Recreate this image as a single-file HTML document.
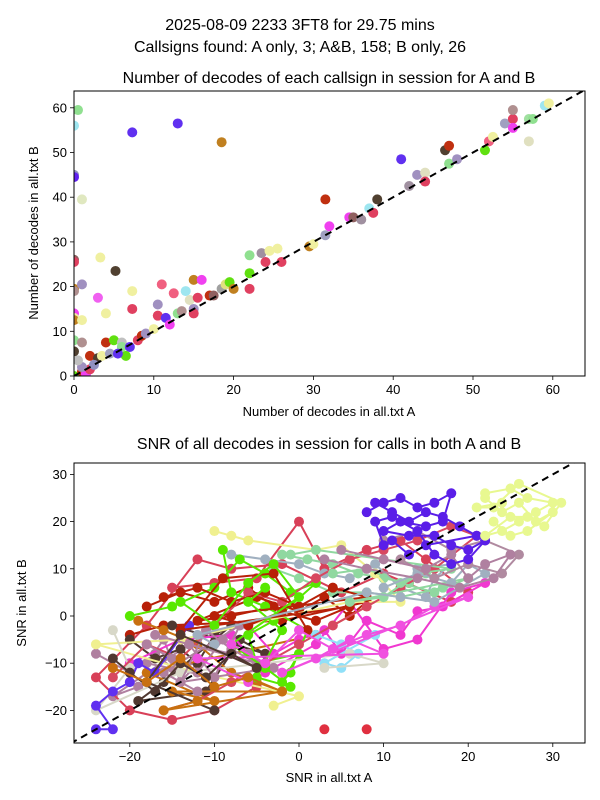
<!DOCTYPE html>
<html><head><meta charset="utf-8"><style>
body{margin:0;background:#fff;}
svg{display:block;font-family:"Liberation Sans","DejaVu Sans",sans-serif;}
</style></head><body>
<svg id="fig" width="600" height="800" viewBox="0 0 600 800">
<rect width="600" height="800" fill="#fff"/>
<text x="300" y="30" font-size="16" text-anchor="middle">2025-08-09 2233 3FT8 for 29.75 mins</text>
<text x="300" y="52" font-size="16" text-anchor="middle">Callsigns found: A only, 3; A&amp;B, 158; B only, 26</text>
<text x="329" y="83" font-size="16" text-anchor="middle">Number of decodes of each callsign in session for A and B</text>
<text x="329" y="449" font-size="16" text-anchor="middle">SNR of all decodes in session for calls in both A and B</text>
<text x="329" y="416" font-size="13" text-anchor="middle">Number of decodes in all.txt A</text>
<text x="38" y="233" font-size="13" text-anchor="middle" transform="rotate(-90 38 233)">Number of decodes in all.txt B</text>
<text x="329" y="782" font-size="13" text-anchor="middle">SNR in all.txt A</text>
<text x="26" y="603" font-size="13" text-anchor="middle" transform="rotate(-90 26 603)">SNR in all.txt B</text>
<g id="top"></g>
<g id="bot"></g>
</svg>
<script>
const topA=[0,0.5,0,0,1,7.3,13,18.5,0,0,3.3,5.2,0,0,1,3,7.3,7.3,4,0,0,0,1,0,1,4,5,6,6.5,6,7,8,8.5,9,10,10.5,11,10.5,11.5,12,12.5,13,13.5,14,14.5,15,15,15,15.5,16,17,17.5,18.5,19,19.5,20,22,22,22,23.5,24,24.5,25.5,26,29.5,30,31.5,31.5,32,34.5,35,36,37,37.5,38,41,42,43,44,44,46.5,47,47,48,51.5,52,52.5,54,55,55,55,57,57,57.5,59,59.5,0,1,1.5,2,2,3,3.5,1,0.5,0,2.5,4.5,5.5];
const topB=[56,59.5,45,44.5,39.5,54.5,56.5,52.3,26,25.5,26.5,23.5,19.5,19,20.5,17.5,19,15,14,14,13,12.5,12.5,8,7.5,7.5,8,7.5,4.5,6.5,6.5,8,9,9.5,10.5,16,20.5,13.5,13,11.5,18.5,14,14.5,19,17,15,14,21.5,17.5,21.5,18,18,19.5,20.5,21,19.5,27,23,19.5,27.5,25.5,28,28.5,25.5,29,29.5,31.5,39.5,33.5,35.5,35.5,35,37.5,36.5,39.5,48.5,42.5,45,45.5,43.5,50.5,51.5,47.5,48.5,50.5,52.5,53.5,56.5,57.5,59.5,55.5,52.5,57.5,57.5,60.5,61,0,1,0.5,1.5,4.5,4,4.5,2,3.5,5.5,2.5,5,5];
const topC=['#9ee6f0','#90e090','#9090c0','#6020f0','#e0e8c0','#6030f0','#6030f0','#c08020','#906060','#e04060','#f0f0a0','#504030','#c08020','#b09090','#a090c0','#f060f0','#f0f0a0','#e04060','#f0f0a0','#f040f0','#f0f0a0','#c08020','#f0f0a0','#90e090','#b09090','#c03010','#60e010','#c0c0c0','#60e010','#90e090','#6030f0','#e04060','#c03010','#a090c0','#f0f0a0','#a090c0','#f06080','#e04060','#6030f0','#f040f0','#f06080','#90e090','#b09090','#9ee6f0','#e0e0c0','#a090c0','#e04060','#c08020','#e04060','#f040f0','#c03010','#906060','#a0a0a0','#e0e080','#60e010','#c08020','#90e090','#60e010','#e04060','#a090a0','#e04060','#f0f0a0','#f0f0a0','#e04060','#c08020','#f0f0a0','#a0a0c0','#c03010','#f040f0','#f040f0','#906060','#a090a0','#9ee6f0','#e04060','#504030','#6030f0','#a090a0','#a090c0','#e0e0c0','#e04060','#504030','#c03010','#90e090','#a090c0','#60e010','#f06080','#f0f0a0','#a0a0c0','#e04060','#b09090','#f040f0','#e0e0c0','#a0e0a0','#90e090','#9ee6f0','#f0f0a0','#60e010','#c03010','#f040f0','#e04060','#c03010','#504030','#f0f0a0','#a090c0','#c0c0c0','#504030','#9090c0','#a0a0c0','#6030f0'];
const topXTicks=[0,10,20,30,40,50,60];
const topYTicks=[0,10,20,30,40,50,60];

const seriesColors=['#b080a0','#d84058','#b82008','#503830','#c87010','#f038d0','#a0b0c0','#90d8a0','#58e800','#f0f090','#90e0f8','#d8d8c8','#6030f0',
'#d84860','#b080a0','#b82008','#58e800','#f050e0','#90d8a0','#a0b0c0','#b08aa0','#503830','#c87010',
'#b080a0','#5a1ee8','#5a1ee8','#e8f890','#e8f890','#e03040'];
const seriesX=[
[-24,-20,-17,-15,-12,-14,-16,-18,-10,-8,-13,-22,-19],
[-15,-10,-5,0,3,8,12,15,20,18,10,5,-2,-8,-12,-18,-24,-20,-15,-10,-5],
[-18,-14,-10,-6,-3,-8,-12,-5,0,3,6,8,-2,-16,-20],
[-20,-17,-14,-12,-10,-8,-16,-19,-11,-7,-4,-15],
[-19,-16,-12,-8,-5,-2,-15,-10,-18,2,13],
[-6,-3,0,3,5,8,12,14,17,22,18,14,10,6,2,-4,-8,-14,-20],
[-8,-4,0,3,6,9,12,15,16,18,14],
[-2,1,4,7,10,13,15,17,12,8,4,0,-3],
[-20,-15,-10,-7,-4,-1,2,-3,-6,-5,0,-2,-1,1,-4,-8,-9],
[-10,-8,-6,2,5,9,12,6,-14,-24,-12,0,-3],
[2,5,7,5,3,9],
[-22,-20,-24,-14,6,10,3],
[-24,-22,-24,-22,-20,-19,-17,-13],
[-22,-18,-14,-10,-6,-2,2,6,10,14,18,21,16,12,8,4,0,-4,-8,-12,-16],
[-18,-15,-12,-9,-6,-3,-14,-11,-8,-5,-17,-13,-10,-7,-16,-12],
[-16,-12,-8,-4,0,4,8,-10,-6,-2,2,6,-14,-9,-3,1],
[-14,-10,-6,-3,0,-8,-4,-1,-5,-2,-6,-4],
[-8,-4,0,4,8,12,16,20,-2,2,6,10,-12,-6],
[4,8,12,16,20,6,10,14,18,2,-1],
[10,14,18,20,22,16,12,8,-12,-10],
[10,14,18,22,26,24,20,16,12],
[-22,-20,-17,-14,-11,-8,-5,-14,-18,-10],
[-22,-18,-14,-10,-6,-2,-16,-12],
[5,10,15,18,20,22,25,23,19,14,8,3],
[8,10,12,14,16,18,17,15,12,10,13,16,18,20,22,20,18,16,14,11,9,10],
[9,11,13,15,17,19,21,15,13,11],
[22,25,27,30,28,26,24,22,25,27,29,31,26,23,21,24],
[22,24,26,28,30,27,25,23],
[8,3]];
const seriesY=[
[-8,-12,-8,-11,-10,-14,-5,-10,-13,-8,-6,-17,-15],
[6,7,8,20,10,14,16,12,5,3,9,5,11,10,12,-2,-13,-20,-22,-20,-15],
[2,5,3,6,2,0,-1,4,1,4,0,3,-1,-2,-4],
[-5,-9,-7,-10,-4,-2,-14,-18,-16,-5,-8,-2],
[-1,-3,-6,-12,-14,-16,-16,-18,-12,-4,7],
[-2,-8,-5,-3,-8,-1,-4,1,2,7,5,-5,-7,3,-6,-12,-4,-5,-10],
[13,12,11,9,8,11,6,4,8,11,10],
[13,12,11,9,8,7,9,6,4,5,5,8,10],
[0,2,6,12,9,5,7,-1,-4,-10,-8,-14,-12,-3,2,5,14],
[18,17,16,14,15,9,3,3,-5,-6,-12,-17,-19],
[-4,-6,-8,-11,-10,-4],
[-3,-11,-20,-12,-8,-10,-11],
[-24,-24,-19,-16,-14,-10,-12,-2],
[-13,-6,-9,-2,5,3,8,12,14,16,19,17,10,6,2,-2,-6,-10,-14,-18,-20],
[-6,-9,-12,-5,-8,-11,-14,-3,-7,-10,-4,-6,-13,-2,-12,-16],
[4,6,3,5,2,6,4,0,-2,1,-1,2,-3,8,9,-3],
[3,-2,7,11,4,-6,-11,-15,-13,-3,3,6],
[-6,-10,-3,-7,-4,-2,2,4,-12,-9,-5,-8,-9,-14],
[9,10,7,5,8,3,4,9,10,14,13],
[6,9,7,11,9,3,4,5,-4,-6],
[16,18,14,16,13,9,11,8,12],
[-9,-12,-16,-10,-13,-8,-11,-4,-14,-20],
[-11,-14,-9,-15,-13,-16,-20,-18],
[14,12,10,13,8,11,13,8,6,8,10,12],
[22,24,25,23,24,26,20,19,20,18,17,17,15,14,16,12,11,13,18,21,20,15],
[24,22,20,22,21,19,17,15,13,16],
[26,27,25,24,22,20,18,17,21,21,19,24,28,23,23,24],
[25,22,24,20,22,18,17,20],
[-24,-24]];
const botXTicks=[-20,-10,0,10,20,30];
const botYTicks=[-20,-10,0,10,20,30];

const NS='http://www.w3.org/2000/svg';
function mk(tag,attrs,parent){const e=document.createElementNS(NS,tag);for(const k in attrs)e.setAttribute(k,attrs[k]);parent.appendChild(e);return e;}
function axes(g,L,T,R,B,sx,sy,xt,yt,prefix){
  for(const t of xt){const x=sx(t);
    const l=mk('line',{x1:x,x2:x,y1:B,y2:B+4,stroke:'#000','stroke-width':0.8},g);
    
    
    const tx=mk('text',{x:x,y:B+18,'font-size':13,'text-anchor':'middle'},g);tx.textContent=String(t).replace('-','\u2212');
    
    }
  for(const t of yt){const y=sy(t);
    const l=mk('line',{x1:L-4,x2:L,y1:y,y2:y,stroke:'#000','stroke-width':0.8},g);
    
    
    const tx=mk('text',{x:L-7,y:y+4.5,'font-size':13,'text-anchor':'end'},g);tx.textContent=String(t).replace('-','\u2212');
    
    }
  const f=mk('rect',{x:L,y:T,width:R-L,height:B-T,fill:'none',stroke:'#000','stroke-width':1},g);
  
  
}
// top
(function(){
  const g=document.getElementById('top');const L=74,T=91,R=585,B=376;
  const sx=v=>L+v*7.98, sy=v=>B-v*4.47;
  mk('clipPath',{id:'ct'},g).appendChild(document.createElementNS(NS,'rect'));
  const cr=g.querySelector('#ct rect');cr.setAttribute('x',L);cr.setAttribute('y',T);cr.setAttribute('width',R-L);cr.setAttribute('height',B-T);
  const pg=mk('g',{'clip-path':'url(#ct)'},g);
  for(let i=0;i<topA.length;i++){
    const c=mk('circle',{cx:sx(topA[i]),cy:sy(topB[i]),r:5,fill:topC[i]},pg);
    
    
  }
  const d=mk('line',{x1:sx(0),y1:sy(0),x2:sx(64),y2:sy(64),stroke:'#000','stroke-width':2,'stroke-dasharray':'7,5'},pg);
  
  
  axes(g,L,T,R,B,sx,sy,topXTicks,topYTicks,'top');
})();
// bottom
(function(){
  const g=document.getElementById('bot');const L=74,T=463,R=585,B=743;
  const sx=v=>299+v*8.46, sy=v=>616-v*4.72;
  mk('clipPath',{id:'cb'},g).appendChild(document.createElementNS(NS,'rect'));
  const cr=g.querySelector('#cb rect');cr.setAttribute('x',L);cr.setAttribute('y',T);cr.setAttribute('width',R-L);cr.setAttribute('height',B-T);
  const pg=mk('g',{'clip-path':'url(#cb)'},g);
  for(let s=0;s<seriesX.length;s++){
    const xs=seriesX[s],ys=seriesY[s],col=seriesColors[s];
    if(s<seriesX.length-1){
      const pl=mk('polyline',{points:xs.map((x,i)=>sx(x)+','+sy(ys[i])).join(' '),fill:'none',stroke:col,'stroke-width':2},pg);
      
      
    }
    for(let i=0;i<xs.length;i++){
      const c=mk('circle',{cx:sx(xs[i]),cy:sy(ys[i]),r:5,fill:col},pg);
      
      
    }
  }
  const d=mk('line',{x1:sx(-27),y1:sy(-27),x2:sx(34),y2:sy(34),stroke:'#000','stroke-width':2,'stroke-dasharray':'7,5'},pg);
  
  
  axes(g,L,T,R,B,sx,sy,botXTicks,botYTicks,'bottom');
})();
</script>
</body></html>
